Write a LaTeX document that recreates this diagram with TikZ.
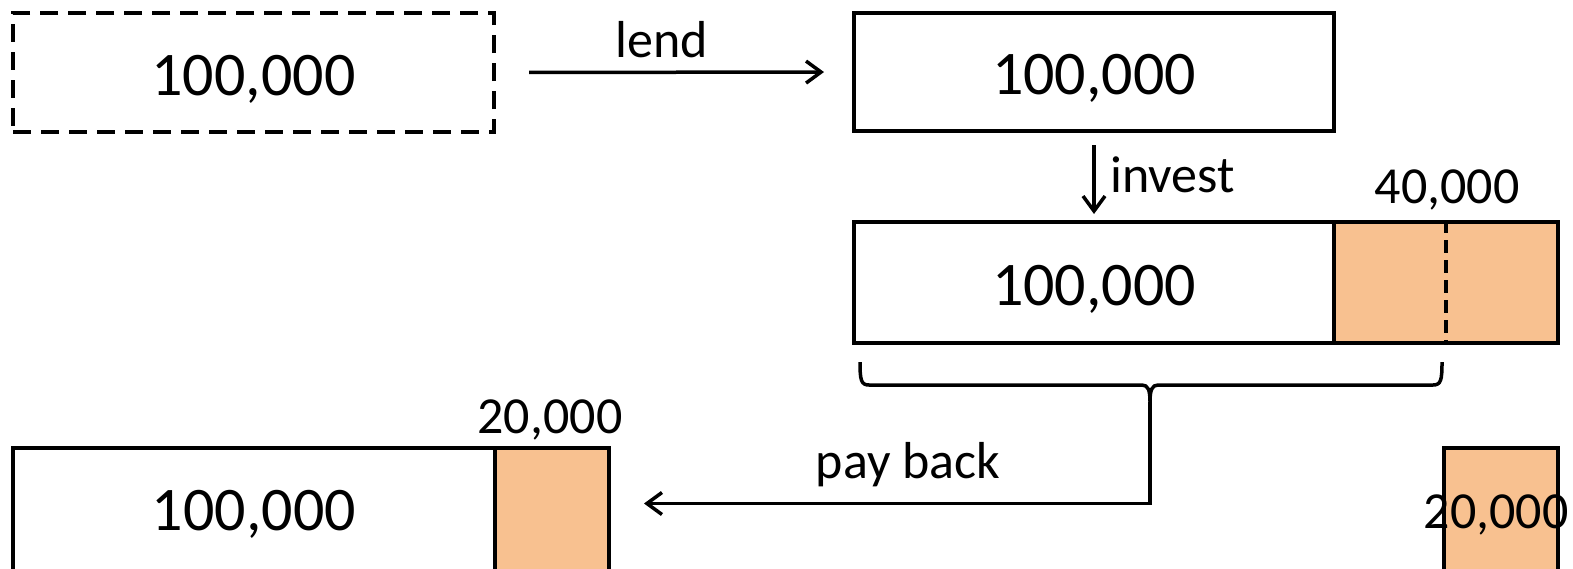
\documentclass[tikz,border=0pt]{standalone}
\usepackage{fontspec}
\setmainfont{Carlito}
\usetikzlibrary{arrows.meta}
\definecolor{fillor}{HTML}{F8C190}
\tikzset{
  box/.style={draw=black, line width=4pt, rectangle, inner sep=0pt, fill=white,
    font=\fontsize{62}{70}\selectfont, text height=50pt, text depth=5pt},
  lowbox/.style={box, text height=44pt, text depth=10pt},
  dbox/.style={box, dash pattern=on 18pt off 10pt},
  obox/.style={box, fill=fillor},
  lbl/.style={font=\fontsize{52}{60}\selectfont, inner sep=0pt, anchor=base},
  arr/.style={line width=3.5pt, -{Straight Barb[length=15pt,width=22pt,line width=3.5pt]}},
}
\begin{document}
\begin{tikzpicture}[x=1pt,y=-1pt]
\useasboundingbox (0,0) rectangle (1573,568);
% top row
\node[dbox, minimum width=481pt, minimum height=119pt] (a) at (253.5,72.5) {100,000};
\node[box, minimum width=480pt, minimum height=118pt] (b) at (1094,72) {100,000};
\draw[arr, shorten <=33pt, shorten >=28pt] (a.east) -- (b.west);
\node[lbl] (lend) at (662,57) {lend};
% middle row
\node[box, minimum width=480pt, minimum height=121pt] (c) at (1094,282.5) {100,000};
\node[obox, minimum width=224pt, minimum height=121pt] (c2) at (1446,282.5) {};
\draw[line width=3.5pt, dash pattern=on 13pt off 7pt] (c2.north) -- (c2.south);
\node[lbl] (forty) at (1447,203) {40,000};
\draw[arr, shorten <=12pt, shorten >=6pt] (b.south) -- (c.north);
\node[lbl, anchor=base west] (invest) at (1110,192) {invest};
% brace
\coordinate (tip) at (1150,402);
\draw[line width=3.5pt, line join=round]
  (860,362) .. controls (860,380) and (861,385) .. (869,385)
  -- (1142,385) .. controls (1148,385) and (1150,390) .. (tip)
  .. controls (1150,390) and (1152,385) .. (1158,385)
  -- (1433,385) .. controls (1441,385) and (1442,380) .. (1442,362);
% bottom row
\node[lowbox, minimum width=482pt, minimum height=130pt] (d) at (254,513) {100,000};
\node[obox, minimum width=114pt, minimum height=130pt] (d2) at (552,513) {};
\node[lbl] (twenty) at (550,433) {20,000};
\node[obox, minimum width=114pt, minimum height=130pt] (e) at (1501,513) {};
\node[lbl] (twentyb) at (1496,528) {20,000};
\draw[arr, shorten >=33pt] (tip) |- ([yshift=9.5pt]d2.east);
\node[lbl] (pay) at (908,478) {pay back};
\end{tikzpicture}
\end{document}
